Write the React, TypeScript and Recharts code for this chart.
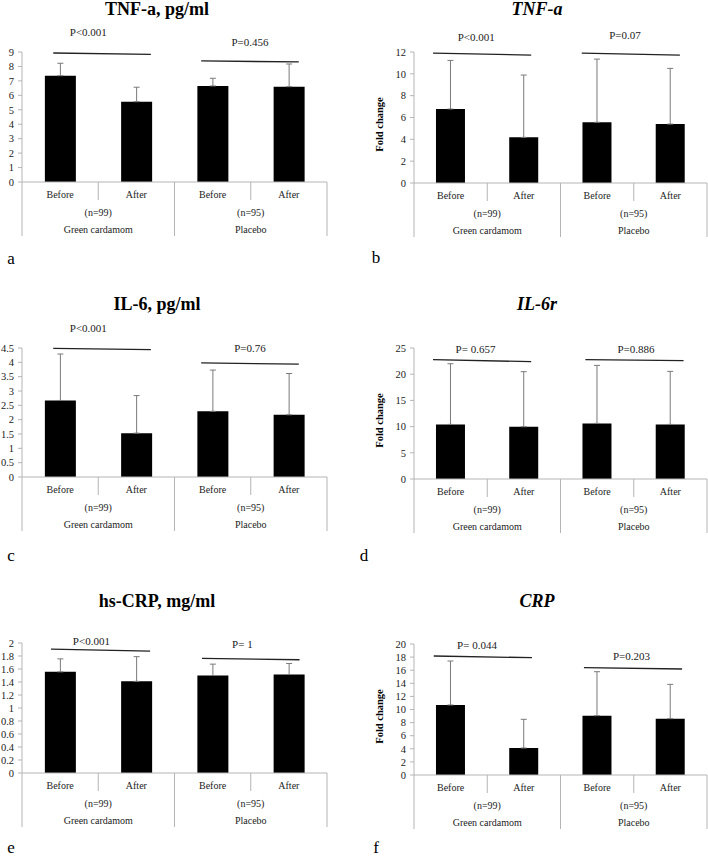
import { BarChart, Bar, XAxis, YAxis, ErrorBar, ReferenceLine, ReferenceDot } from 'recharts';

// x categories
const phases = ['Before', 'After', 'Before', 'After'];
const slots = [0.5, 1.5, 2.5, 3.5]; // centre of each category on the 0..4 bracket axis
const groupNames = ['Green cardamom', 'Placebo'];
const groupSizes = ['(n=99)', '(n=95)'];

// a) serum TNF-a, pg/ml
const tnfSerumMean = [7.36, 5.56, 6.65, 6.6];
const tnfSerumSd = [0.86, 1.0, 0.53, 1.57];
// b) TNF-a expression, fold change
const tnfGeneMean = [6.78, 4.18, 5.56, 5.4];
const tnfGeneSd = [4.45, 5.71, 5.79, 5.1];
// c) serum IL-6, pg/ml
const il6SerumMean = [2.67, 1.53, 2.29, 2.17];
const il6SerumSd = [1.62, 1.31, 1.44, 1.44];
// d) IL-6r expression, fold change
const il6rGeneMean = [10.42, 9.98, 10.61, 10.42];
const il6rGeneSd = [11.58, 10.5, 11.07, 10.12];
// e) serum hs-CRP, mg/ml
const crpSerumMean = [1.556, 1.41, 1.5, 1.515];
const crpSerumSd = [0.2, 0.38, 0.175, 0.17];
// f) CRP expression, fold change
const crpGeneMean = [10.69, 4.12, 9.06, 8.6];
const crpGeneSd = [6.71, 4.38, 6.71, 5.24];

// y axis ticks
const ticksA = [0, 1, 2, 3, 4, 5, 6, 7, 8, 9];
const ticksB = [0, 2, 4, 6, 8, 10, 12];
const ticksC = [0, 0.5, 1, 1.5, 2, 2.5, 3, 3.5, 4, 4.5];
const ticksD = [0, 5, 10, 15, 20, 25];
const ticksE = [0, 0.2, 0.4, 0.6, 0.8, 1, 1.2, 1.4, 1.6, 1.8, 2];
const ticksF = [0, 2, 4, 6, 8, 10, 12, 14, 16, 18, 20];

// p-value brackets (x in category units 0..4, y in data units)
type Note = { label: string; lx: number; ly: number; from: [number, number]; to: [number, number] };
const notesA: Note[] = [
  { label: 'P<0.001', lx: 0.87, ly: 10.39, from: [0.41, 8.93], to: [1.69, 8.84] },
  { label: 'P=0.456', lx: 2.99, ly: 9.7, from: [2.35, 8.38], to: [3.63, 8.31] },
];
const notesB: Note[] = [
  { label: 'P<0.001', lx: 0.85, ly: 13.37, from: [0.26, 11.9], to: [1.6, 11.72] },
  { label: 'P=0.07', lx: 2.88, ly: 13.55, from: [2.29, 11.9], to: [3.63, 11.72] },
];
const notesC: Note[] = [
  { label: 'P<0.001', lx: 0.87, ly: 5.2, from: [0.41, 4.49], to: [1.69, 4.44] },
  { label: 'P=0.76', lx: 2.99, ly: 4.48, from: [2.35, 3.98], to: [3.63, 3.94] },
];
const notesD: Note[] = [
  { label: 'P= 0.657', lx: 0.84, ly: 24.87, from: [0.26, 22.77], to: [1.6, 22.39] },
  { label: 'P=0.886', lx: 3.03, ly: 24.87, from: [2.34, 22.77], to: [3.68, 22.58] },
];
const notesE: Note[] = [
  { label: 'P<0.001', lx: 0.91, ly: 2.035, from: [0.38, 1.907], to: [1.68, 1.876] },
  { label: 'P= 1', lx: 2.89, ly: 1.99, from: [2.36, 1.762], to: [3.64, 1.742] },
];
const notesF: Note[] = [
  { label: 'P= 0.044', lx: 0.86, ly: 19.85, from: [0.27, 18.17], to: [1.61, 17.91] },
  { label: 'P=0.203', lx: 2.97, ly: 18.2, from: [2.32, 16.38], to: [3.66, 16.18] },
];

const serif = "'Liberation Serif', 'Times New Roman', serif";
const lineGray = '#b5b5b5';
const textColor = '#222';
const PANEL_W = 354;
const AXIS_H = 58;

type Panel = {
  letter: string;
  title: string;
  italic: boolean;
  left: number;
  top: number;
  means: number[];
  sds: number[];
  ticks: number[];
  notes: Note[];
  plotTop: number;
  plotBottom: number;
  titleY: number;
  letterX: number;
  letterY: number;
};

const panels: Panel[] = [
  { letter: 'a', title: 'TNF-a, pg/ml', italic: false, left: 0, top: 0, means: tnfSerumMean, sds: tnfSerumSd, ticks: ticksA, notes: notesA, plotTop: 52, plotBottom: 182, titleY: 9, letterX: 11, letterY: 259 },
  { letter: 'b', title: 'TNF-a', italic: true, left: 354, top: 0, means: tnfGeneMean, sds: tnfGeneSd, ticks: ticksB, notes: notesB, plotTop: 52, plotBottom: 183, titleY: 9, letterX: 22, letterY: 258 },
  { letter: 'c', title: 'IL-6, pg/ml', italic: false, left: 0, top: 280, means: il6SerumMean, sds: il6SerumSd, ticks: ticksC, notes: notesC, plotTop: 68, plotBottom: 197, titleY: 24, letterX: 11, letterY: 276 },
  { letter: 'd', title: 'IL-6r', italic: true, left: 354, top: 280, means: il6rGeneMean, sds: il6rGeneSd, ticks: ticksD, notes: notesD, plotTop: 68, plotBottom: 199, titleY: 24, letterX: 10, letterY: 276 },
  { letter: 'e', title: 'hs-CRP, mg/ml', italic: false, left: 0, top: 560, means: crpSerumMean, sds: crpSerumSd, ticks: ticksE, notes: notesE, plotTop: 83, plotBottom: 213, titleY: 41, letterX: 11, letterY: 288 },
  { letter: 'f', title: 'CRP', italic: true, left: 354, top: 560, means: crpGeneMean, sds: crpGeneSd, ticks: ticksF, notes: notesF, plotTop: 84, plotBottom: 215, titleY: 41, letterX: 22, letterY: 288 },
];

// two-level category axis: Before/After, then (n) and group name
const PhaseTick = (props: any) => {
  const { x, y, payload, half } = props;
  const i = payload.index;
  const g = Math.floor(i / 2);
  const txt = { fontFamily: serif, fontSize: 10, fill: textColor, textAnchor: 'middle' as const, dominantBaseline: 'central' as const };
  return (
    <g>
      <text x={x} y={y + 12} {...txt}>{payload.value}</text>
      {i % 2 === 0 && (
        <>
          <line x1={x + half} x2={x + half} y1={y} y2={y + 18} stroke={lineGray} />
          <text x={x + half} y={y + 30} {...txt}>{groupSizes[g]}</text>
          <text x={x + half} y={y + 47} {...txt}>{groupNames[g]}</text>
        </>
      )}
      {i === 0 && <line x1={x - half} x2={x - half} y1={y} y2={y + 54} stroke={lineGray} />}
      {i % 2 === 1 && <line x1={x + half} x2={x + half} y1={y} y2={y + 54} stroke={lineGray} />}
    </g>
  );
};

const PanelChart = ({ p }: { p: Panel }) => {
  const isRight = p.left > 0;
  const yw = isRight ? 60 : 22;
  const mr = isRight ? 1 : 27;
  const half = (PANEL_W - yw - mr) / phases.length / 2;
  const rows = phases.map((ph, i) => ({ phase: ph, slot: slots[i], mean: p.means[i], err: [0, p.sds[i]] }));
  const yMax = p.ticks[p.ticks.length - 1];
  const titleCx = isRight ? 183 : 157;

  return (
    <div style={{ position: 'absolute', left: p.left, top: p.top, width: PANEL_W, height: 297 }}>
      <div
        style={{
          position: 'absolute', left: titleCx - 100, width: 200, top: p.titleY - 9, height: 18, lineHeight: '18px',
          textAlign: 'center', fontFamily: serif, fontWeight: 'bold', fontStyle: p.italic ? 'italic' : 'normal',
          fontSize: 18, color: '#000', whiteSpace: 'nowrap',
        }}
      >
        {p.title}
      </div>
      <div
        style={{
          position: 'absolute', left: p.letterX - 10, width: 20, top: p.letterY - 8, height: 16, lineHeight: '16px',
          textAlign: 'center', fontFamily: serif, fontSize: 17, color: '#000',
        }}
      >
        {p.letter}
      </div>
      <div style={{ position: 'absolute', left: 0, top: 0 }}>
        <BarChart
          width={PANEL_W}
          height={p.plotBottom + AXIS_H}
          data={rows}
          margin={{ top: p.plotTop, right: mr, left: 0, bottom: 0 }}
          barCategoryGap="30%"
        >
          <XAxis
            dataKey="phase"
            interval={0}
            height={AXIS_H}
            tickSize={0}
            tickMargin={0}
            tickLine={false}
            axisLine={{ stroke: lineGray }}
            tick={(t: any) => <PhaseTick {...t} half={half} />}
          />
          <XAxis xAxisId="p" dataKey="slot" type="number" domain={[0, 4]} allowDataOverflow hide />
          <YAxis
            width={yw}
            domain={[0, yMax]}
            ticks={p.ticks}
            interval={0}
            tickSize={4}
            tickMargin={4}
            axisLine={{ stroke: lineGray }}
            tickLine={{ stroke: lineGray }}
            tick={{ fontFamily: serif, fontSize: 10.5, fill: textColor }}
            label={
              isRight
                ? {
                    value: 'Fold change',
                    angle: -90,
                    position: 'insideLeft',
                    offset: 25,
                    dy: 7,
                    style: { fontFamily: serif, fontWeight: 'bold', fontSize: 10.5, fill: '#000', textAnchor: 'middle' },
                  }
                : undefined
            }
          />
          <Bar dataKey="mean" fill="#000" isAnimationActive={false}>
            <ErrorBar dataKey="err" direction="y" width={3} stroke="#7a7a7a" strokeWidth={1} />
          </Bar>
          {p.notes.map((n, k) => (
            <ReferenceLine
              key={`l${k}`}
              xAxisId="p"
              segment={[{ x: n.from[0], y: n.from[1] }, { x: n.to[0], y: n.to[1] }]}
              stroke="#222"
              strokeWidth={1.3}
              ifOverflow="visible"
            />
          ))}
          {p.notes.map((n, k) => (
            <ReferenceDot
              key={`t${k}`}
              xAxisId="p"
              x={n.lx}
              y={n.ly}
              r={0}
              fill="none"
              stroke="none"
              ifOverflow="visible"
              label={{ value: n.label, position: 'center', fontFamily: serif, fontSize: 11, fill: textColor }}
            />
          ))}
        </BarChart>
      </div>
    </div>
  );
};

export default function App() {
  return (
    <div style={{ position: 'absolute', left: 0, top: 0, width: 708, height: 857, background: '#fff' }}>
      {panels.map((p) => (
        <PanelChart key={p.letter} p={p} />
      ))}
    </div>
  );
}
